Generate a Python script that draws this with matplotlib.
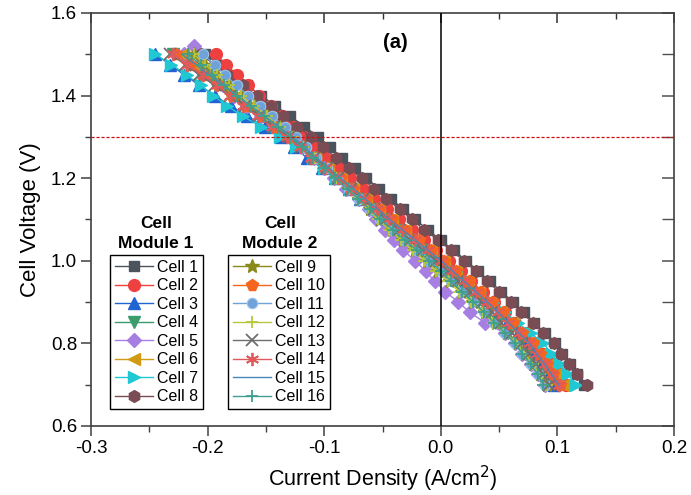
import matplotlib
matplotlib.use("Agg")
import matplotlib.pyplot as plt

plt.rcParams['font.family'] = ['Liberation Sans', 'DejaVu Sans']
plt.rcParams['axes.unicode_minus'] = False

# ---------------- data ----------------
V = [1.500, 1.475, 1.450, 1.425, 1.400, 1.375, 1.350, 1.325, 1.300, 1.275, 1.250,
     1.225, 1.200, 1.175, 1.150, 1.125, 1.100, 1.075, 1.050, 1.025, 1.000, 0.975,
     0.950, 0.925, 0.900, 0.875, 0.850, 0.825, 0.800, 0.775, 0.750, 0.725, 0.700]
V5 = [1.520] + V

cell1 = [-0.202,-0.190,-0.179,-0.166,-0.154,-0.142,-0.129,-0.117,-0.105,-0.095,-0.085,-0.074,-0.064,-0.053,-0.043,-0.032,-0.022,-0.011,0.000,0.011,0.022,0.032,0.042,0.052,0.062,0.071,0.080,0.089,0.098,0.104,0.111,0.117,0.123]
cell2 = [-0.193,-0.184,-0.175,-0.165,-0.156,-0.146,-0.136,-0.127,-0.117,-0.108,-0.099,-0.088,-0.078,-0.067,-0.057,-0.046,-0.036,-0.025,-0.014,-0.004,0.007,0.017,0.026,0.036,0.046,0.055,0.064,0.073,0.082,0.088,0.095,0.101,0.107]
cell3 = [-0.245,-0.232,-0.220,-0.207,-0.194,-0.180,-0.166,-0.151,-0.137,-0.126,-0.115,-0.102,-0.091,-0.079,-0.069,-0.057,-0.046,-0.035,-0.023,-0.012,0.000,0.010,0.020,0.030,0.040,0.049,0.057,0.066,0.074,0.080,0.086,0.092,0.097]
cell4 = [-0.230,-0.218,-0.206,-0.194,-0.181,-0.169,-0.156,-0.144,-0.131,-0.121,-0.111,-0.100,-0.090,-0.079,-0.070,-0.059,-0.049,-0.038,-0.028,-0.017,-0.006,0.004,0.013,0.023,0.032,0.041,0.049,0.058,0.066,0.072,0.078,0.084,0.089]
cell5 = [-0.212,-0.220,-0.208,-0.197,-0.187,-0.177,-0.166,-0.154,-0.142,-0.129,-0.119,-0.109,-0.100,-0.092,-0.081,-0.070,-0.062,-0.056,-0.048,-0.040,-0.032,-0.022,-0.013,-0.005,0.004,0.015,0.025,0.038,0.055,0.064,0.070,0.077,0.083,0.089]
cell6 = [-0.221,-0.209,-0.199,-0.187,-0.175,-0.163,-0.152,-0.140,-0.129,-0.119,-0.108,-0.097,-0.086,-0.075,-0.064,-0.053,-0.042,-0.031,-0.020,-0.008,0.003,0.013,0.023,0.033,0.043,0.052,0.062,0.071,0.080,0.086,0.093,0.099,0.105]
cell7 = [-0.245,-0.231,-0.218,-0.206,-0.195,-0.183,-0.170,-0.154,-0.138,-0.124,-0.110,-0.100,-0.090,-0.078,-0.067,-0.055,-0.044,-0.033,-0.022,-0.010,0.002,0.013,0.024,0.034,0.045,0.055,0.066,0.077,0.088,0.095,0.102,0.109,0.116]
cell8 = [-0.206,-0.194,-0.183,-0.170,-0.158,-0.146,-0.135,-0.123,-0.111,-0.101,-0.090,-0.079,-0.068,-0.057,-0.047,-0.035,-0.025,-0.014,-0.002,0.009,0.020,0.030,0.040,0.050,0.060,0.069,0.079,0.088,0.097,0.103,0.110,0.117,0.125]
cell9 = [-0.212,-0.202,-0.192,-0.182,-0.171,-0.160,-0.149,-0.138,-0.127,-0.118,-0.108,-0.098,-0.089,-0.079,-0.070,-0.061,-0.052,-0.042,-0.032,-0.022,-0.012,-0.002,0.008,0.018,0.028,0.038,0.047,0.057,0.066,0.072,0.079,0.085,0.091]
cell10 = [-0.227,-0.215,-0.203,-0.191,-0.179,-0.167,-0.154,-0.142,-0.129,-0.118,-0.108,-0.097,-0.086,-0.075,-0.064,-0.053,-0.042,-0.031,-0.019,-0.008,0.003,0.013,0.024,0.034,0.044,0.053,0.062,0.070,0.079,0.085,0.091,0.096,0.102]
cell11 = [-0.204,-0.194,-0.185,-0.175,-0.165,-0.155,-0.145,-0.134,-0.124,-0.116,-0.107,-0.098,-0.089,-0.079,-0.070,-0.061,-0.052,-0.041,-0.031,-0.020,-0.010,0.000,0.009,0.019,0.028,0.037,0.046,0.055,0.064,0.070,0.077,0.083,0.089]
cell12 = [-0.212,-0.202,-0.192,-0.182,-0.171,-0.160,-0.149,-0.138,-0.127,-0.118,-0.109,-0.099,-0.090,-0.080,-0.071,-0.062,-0.054,-0.044,-0.034,-0.024,-0.014,-0.004,0.006,0.016,0.026,0.036,0.045,0.055,0.065,0.072,0.079,0.085,0.091]
cell13 = [-0.232,-0.219,-0.207,-0.194,-0.181,-0.168,-0.156,-0.143,-0.130,-0.120,-0.109,-0.098,-0.088,-0.077,-0.067,-0.057,-0.047,-0.036,-0.026,-0.015,-0.004,0.006,0.015,0.025,0.035,0.044,0.052,0.061,0.070,0.076,0.082,0.088,0.093]
cell14 = [-0.230,-0.218,-0.204,-0.192,-0.181,-0.170,-0.157,-0.145,-0.132,-0.121,-0.111,-0.099,-0.088,-0.077,-0.066,-0.055,-0.044,-0.033,-0.022,-0.011,0.000,0.010,0.020,0.030,0.040,0.049,0.058,0.067,0.076,0.082,0.089,0.095,0.101]
cell15 = [-0.222,-0.210,-0.199,-0.187,-0.175,-0.163,-0.151,-0.139,-0.127,-0.117,-0.107,-0.096,-0.086,-0.075,-0.065,-0.054,-0.044,-0.033,-0.022,-0.011,0.000,0.010,0.020,0.030,0.040,0.049,0.058,0.067,0.076,0.082,0.089,0.095,0.101]
cell16 = [-0.217,-0.206,-0.196,-0.186,-0.175,-0.163,-0.152,-0.140,-0.129,-0.119,-0.110,-0.100,-0.091,-0.080,-0.071,-0.061,-0.052,-0.041,-0.031,-0.020,-0.010,0.000,0.009,0.018,0.028,0.037,0.046,0.055,0.064,0.070,0.077,0.083,0.088]

labels = ["Cell %d" % i for i in range(1, 17)]
x_ticks = [-0.3, -0.2, -0.1, 0.0, 0.1, 0.2]
y_ticks = [0.6, 0.8, 1.0, 1.2, 1.4, 1.6]
x_minor = [-0.25, -0.15, -0.05, 0.05, 0.15]
y_minor = [0.7, 0.9, 1.1, 1.3, 1.5]
ref_voltage = 1.3

# ---------------- styles ----------------
series = [
    (cell1, V, 's', '#4b535c', 7.5),
    (cell2, V, 'o', '#ef4040', 8.5),
    (cell3, V, '^', '#2064d2', 8.5),
    (cell4, V, 'v', '#3c9c6c', 8.5),
    (cell5, V5, 'D', '#a77ee2', 7.5),
    (cell6, V, '<', '#d09a12', 8.5),
    (cell7, V, '>', '#1fc8d2', 8.5),
    (cell8, V, 'h', '#7a4c54', 8.5),
    (cell9, V, '*', '#8a8a1c', 10.5),
    (cell10, V, 'p', '#f5651e', 8.5),
    (cell11, V, 'o', '#6fa2d8', 7.5),
    (cell12, V, '+', '#b8c83a', 9),
    (cell13, V, 'x', '#6e6e6e', 8.5),
    (cell14, V, (6, 2, 0), '#e05a5a', 9.5),
    (cell15, V, 'None', '#4a86b8', 0),
    (cell16, V, '+', '#3f9f8f', 9),
]

fig = plt.figure(figsize=(6.91, 4.95), dpi=100)
W, H = 691, 495
ax = fig.add_axes([91 / W, 1 - 426 / H, (674 - 91) / W, (426 - 13) / H])

handles = []
for (I, VV, mk, col, ms), lab in zip(series, labels):
    kw = dict(color=col, lw=1.0, marker=mk, markersize=ms,
              markerfacecolor=col, markeredgecolor=col, label=lab)
    if mk in ('+', 'x', (6, 2, 0)):
        kw['markeredgewidth'] = 1.3
    if lab == "Cell 11":
        kw['markeredgecolor'] = '#9cc3ea'
        kw['markeredgewidth'] = 0.8
    ln, = ax.plot(I, VV, **kw)
    handles.append(ln)

ax.axvline(0.0, color='black', lw=1.1, zorder=5)
ax.axhline(ref_voltage, color='#c81010', lw=0.9, ls=(0, (2.5, 1.5)), zorder=5)

ax.set_xlim(-0.3, 0.2)
ax.set_ylim(0.6, 1.6)
ax.set_xticks(x_ticks)
ax.set_yticks(y_ticks)
ax.set_xticklabels(["%.1f" % t for t in x_ticks])
ax.set_yticklabels(["%.1f" % t for t in y_ticks])
ax.set_xticks(x_minor, minor=True)
ax.set_yticks(y_minor, minor=True)
ax.tick_params(which='major', direction='out', length=7, width=1.1, labelsize=13.5,
               color='#404040', pad=3)
ax.tick_params(which='minor', direction='out', length=4, width=1.0, color='#404040')

# mirrored inward ticks on top/right
axt = ax.secondary_xaxis('top')
axt.set_xticks(x_ticks)
axt.set_xticks(x_minor, minor=True)
axt.tick_params(which='major', direction='in', length=7, width=1.1, labeltop=False, color='#303030')
axt.tick_params(which='minor', direction='in', length=4, width=1.0, color='#303030')
axt.spines['top'].set_visible(False)
axr = ax.secondary_yaxis('right')
axr.set_yticks(y_ticks)
axr.set_yticks(y_minor, minor=True)
axr.tick_params(which='major', direction='in', length=9, width=1.1, labelright=False, color='#505050')
axr.tick_params(which='minor', direction='in', length=9, width=1.0, color='#505050')
axr.spines['right'].set_visible(False)

for s in ax.spines.values():
    s.set_color('#404040')
    s.set_linewidth(1.2)

ax.set_xlabel("Current Density (A/cm$^2$)", fontsize=15.5, labelpad=5)
ax.set_ylabel("Cell Voltage (V)", fontsize=16, labelpad=7)

fig.text(395 / W, 1 - 43 / H, "(a)", fontsize=14.5, fontweight='bold',
         ha='center', va='center')

# legends
def place_legend(hs, x0, y0):
    leg = fig.legend(handles=hs, loc='upper left',
                     bbox_to_anchor=(x0 / W, 1 - y0 / H), bbox_transform=fig.transFigure,
                     frameon=True, fancybox=False, edgecolor='black', framealpha=1,
                     fontsize=11.5, labelspacing=0.22, handlelength=2.4,
                     handletextpad=0.25, borderpad=0.3, borderaxespad=0)
    leg.get_frame().set_linewidth(1.0)
    return leg

leg1 = place_legend(handles[:8], 110, 255)
leg2 = place_legend(handles[8:], 228, 255)

for cx, mod in ((156, "Module 1"), (280, "Module 2")):
    fig.text(cx / W, 1 - 223 / H, "Cell", ha='center', va='center',
             fontsize=12.5, fontweight='bold')
    fig.text(cx / W, 1 - 243 / H, mod, ha='center', va='center',
             fontsize=12.5, fontweight='bold')

fig.savefig("out.png", dpi=100)
